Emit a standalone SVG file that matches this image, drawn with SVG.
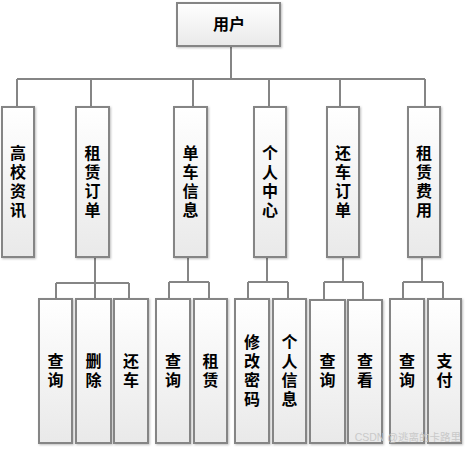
<svg xmlns="http://www.w3.org/2000/svg" width="466" height="449" viewBox="0 0 466 449">
<defs>
<linearGradient id="g" x1="0" y1="0" x2="0" y2="1">
<stop offset="0" stop-color="#ffffff"/>
<stop offset="1" stop-color="#e9e9e9"/>
</linearGradient>
<filter id="sh" x="-20%" y="-10%" width="140%" height="120%">
<feDropShadow dx="1" dy="1" stdDeviation="1" flood-color="#000" flood-opacity="0.25"/>
</filter>
</defs>
<style>
.box{fill:url(#g);stroke:#858585;stroke-width:2;filter:url(#sh)}
.ln{fill:none;stroke:#858585;stroke-width:2}
.t{font-family:"Noto Sans CJK SC","Noto Sans CJK JP",sans-serif;font-size:16px;font-weight:bold;fill:#000;text-anchor:middle;dominant-baseline:central}
.v{font-family:"Noto Sans CJK SC","Noto Sans CJK JP",sans-serif;font-size:16px;font-weight:bold;fill:#000;text-anchor:middle;writing-mode:vertical-rl;text-orientation:upright;letter-spacing:3px}
.wm{font-family:"Liberation Sans","Noto Sans CJK SC",sans-serif;font-size:10.5px;fill:#c9c9c9;text-anchor:end}
</style>
<rect width="466" height="449" fill="#ffffff"/>
<g id="connectors" class="ln">
<path d="M231 46V79M17 79H425M17 79V107M91 79V107M193 79V107M269 79V107M340 79V107M425 79V107"/>
<path d="M95 257V283M56 283H129M56 283V299M95 283V299M129 283V299"/>
<path d="M188 257V282M169 282H209M169 282V299M209 282V299"/>
<path d="M267 257V282M248 282H288M248 282V299M288 282V299"/>
<path d="M343 257V282M324 282H363M324 282V300M363 282V300"/>
<path d="M422 257V282M403 282H443M403 282V299M443 282V299"/>
</g>
<g id="user"><rect class="box" x="177" y="3" width="103" height="43"/><text class="t" x="229" y="23">用户</text></g>
<g id="n1"><rect class="box" x="2" y="107" width="32" height="150"/><text class="v" x="18" y="183">高校资讯</text></g>
<g id="n2"><rect class="box" x="76" y="107" width="33" height="150"/><text class="v" x="92.5" y="183">租赁订单</text></g>
<g id="n3"><rect class="box" x="174" y="107" width="33" height="150"/><text class="v" x="190.5" y="183">单车信息</text></g>
<g id="n4"><rect class="box" x="254" y="107" width="32" height="150"/><text class="v" x="270" y="183">个人中心</text></g>
<g id="n5"><rect class="box" x="327" y="107" width="32" height="150"/><text class="v" x="343" y="183">还车订单</text></g>
<g id="n6"><rect class="box" x="408" y="107" width="32" height="150"/><text class="v" x="424" y="183">租赁费用</text></g>
<g id="s1"><rect class="box" x="39" y="299" width="33" height="144"/><text class="v" x="55.5" y="372">查询</text></g>
<g id="s2"><rect class="box" x="76" y="299" width="35" height="144"/><text class="v" x="93.5" y="372">删除</text></g>
<g id="s3"><rect class="box" x="114" y="299" width="34" height="144"/><text class="v" x="131" y="372">还车</text></g>
<g id="s4"><rect class="box" x="156" y="299" width="34" height="144"/><text class="v" x="173" y="372">查询</text></g>
<g id="s5"><rect class="box" x="194" y="299" width="33" height="144"/><text class="v" x="210.5" y="372">租赁</text></g>
<g id="s6"><rect class="box" x="235" y="299" width="34" height="144"/><text class="v" x="252" y="372">修改密码</text></g>
<g id="s7"><rect class="box" x="273" y="299" width="33" height="144"/><text class="v" x="289.5" y="372">个人信息</text></g>
<g id="s8"><rect class="box" x="310" y="300" width="35" height="143"/><text class="v" x="327.5" y="372">查询</text></g>
<g id="s9"><rect class="box" x="348" y="300" width="34" height="143"/><text class="v" x="365" y="372">查看</text></g>
<g id="s10"><rect class="box" x="390" y="299" width="34" height="144"/><text class="v" x="407" y="372">查询</text></g>
<g id="s11"><rect class="box" x="428" y="299" width="33" height="144"/><text class="v" x="444.5" y="372">支付</text></g>
<text class="wm" x="461" y="441">CSDN @逃离的卡路里</text>
</svg>
